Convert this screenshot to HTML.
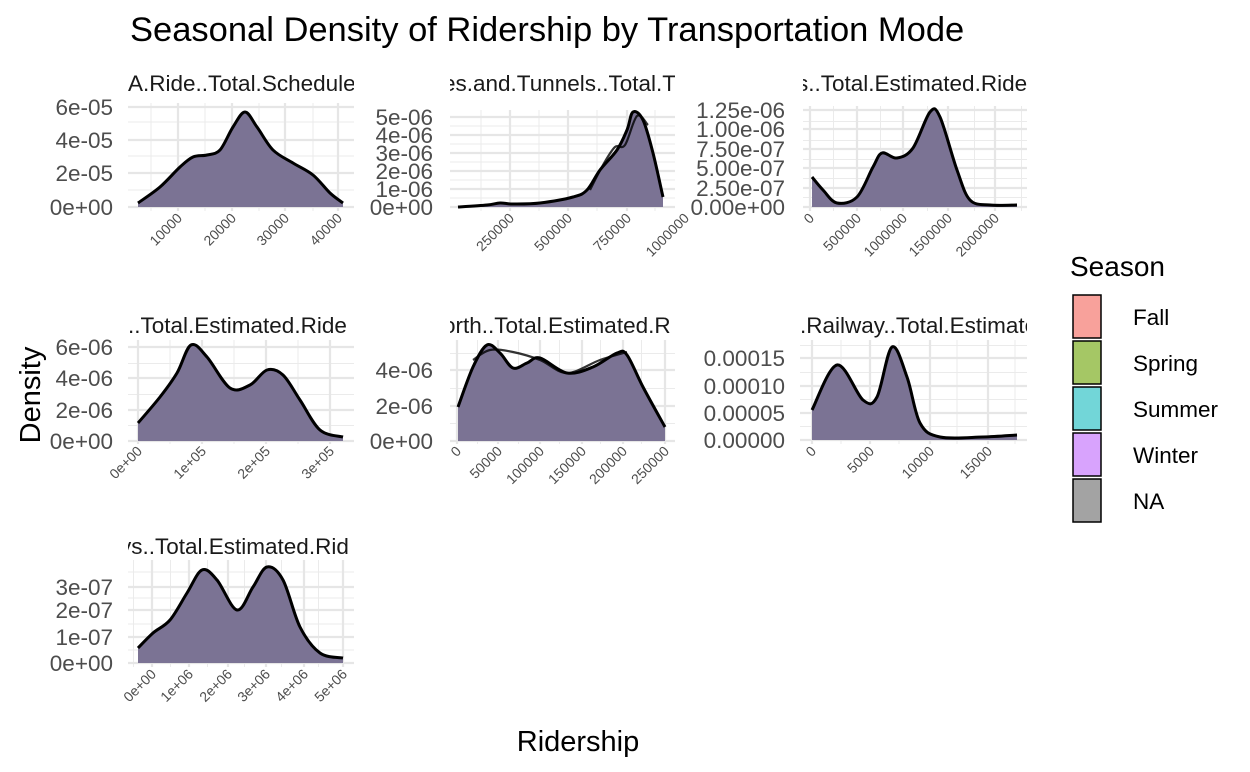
<!DOCTYPE html>
<html><head><meta charset="utf-8"><style>
html,body{margin:0;padding:0;background:#fff;}
svg{display:block;font-family:"Liberation Sans",Arial,sans-serif;}
</style></head><body>
<svg id="s" width="1250" height="772" viewBox="0 0 1250 772" xmlns="http://www.w3.org/2000/svg">
<defs></defs>
<text x="130" y="41" font-size="34.5" fill="#000">Seasonal Density of Ridership by Transportation Mode</text>
<text transform="translate(40,395) rotate(-90)" font-size="29" text-anchor="middle" fill="#000">Density</text>
<text x="578" y="751" font-size="29" text-anchor="middle" fill="#000">Ridership</text>
<text x="1070" y="276" font-size="28" fill="#000">Season</text>
<g stroke="#000" stroke-width="1.5">
<rect x="1073" y="295" width="28" height="43" fill="#f8a19b"/>
<rect x="1073" y="341" width="28" height="43" fill="#a5c765"/>
<rect x="1073" y="387" width="28" height="43" fill="#72d6d8"/>
<rect x="1073" y="433" width="28" height="43" fill="#d8a3fd"/>
<rect x="1073" y="479" width="28" height="43" fill="#a3a3a3"/>
</g>
<g font-size="22.5" fill="#000">
<text x="1133" y="325">Fall</text>
<text x="1133" y="371">Spring</text>
<text x="1133" y="417">Summer</text>
<text x="1133" y="463">Winter</text>
<text x="1133" y="509">NA</text>
</g>
<g id="panels"></g>
</svg>
<script>
const NS="http://www.w3.org/2000/svg";
const S=document.getElementById('s'),G=document.getElementById('panels'),D=S.querySelector('defs');
function el(t,a,p){const e=document.createElementNS(NS,t);for(const k in a)e.setAttribute(k,a[k]);(p||G).appendChild(e);return e;}
function smooth(pts){let d="M"+pts[0][0]+","+pts[0][1];for(let i=0;i<pts.length-1;i++){const p0=pts[Math.max(0,i-1)],p1=pts[i],p2=pts[i+1],p3=pts[Math.min(pts.length-1,i+2)];
const c1=[p1[0]+(p2[0]-p0[0])/6,p1[1]+(p2[1]-p0[1])/6],c2=[p2[0]-(p3[0]-p1[0])/6,p2[1]-(p3[1]-p1[1])/6];
d+=" C"+c1[0].toFixed(1)+","+c1[1].toFixed(1)+" "+c2[0].toFixed(1)+","+c2[1].toFixed(1)+" "+p2[0]+","+p2[1];}return d;}
let cid=0;
function panel(o){
 const [L,R,T,B]=o.rect;
 const yt=o.yt, xt=o.xt;
 const ys=yt.map(t=>t[1]), xs=xt.map(t=>t[1]);
 const dy=ys.length>1?ys[1]-ys[0]:0, dx=xs.length>1?xs[1]-xs[0]:0;
 for(let i=-1;i<ys.length;i++){const y=ys[0]+dy*(i+0.5);if(y>T-1&&y<B+1)el('line',{x1:L,x2:R,y1:y,y2:y,stroke:'#ebebeb','stroke-width':1});}
 for(let i=-2;i<xs.length+1;i++){const x=xs[0]+dx*(i+0.5);if(x>L&&x<R)el('line',{x1:x,x2:x,y1:T,y2:B,stroke:'#ebebeb','stroke-width':1});}
 for(const y of ys)if(y>=T-1&&y<=B+1)el('line',{x1:L,x2:R,y1:y,y2:y,stroke:'#e6e6e6','stroke-width':2.2});
 for(const x of xs)if(x>=L&&x<=R)el('line',{x1:x,x2:x,y1:T,y2:B,stroke:'#e6e6e6','stroke-width':2.2});
 const pts=o.c, base=ys[0];
 let d=smooth(pts);
 el('path',{d:d+" L"+pts[pts.length-1][0]+","+base+" L"+pts[0][0]+","+base+" Z",fill:'#7b7394'});
 if(o.c2){el('path',{d:smooth(o.c2),fill:'none',stroke:'#000','stroke-width':2.2,'stroke-opacity':0.8});}
 el('path',{d:d,fill:'none',stroke:'#000','stroke-width':3,'stroke-linejoin':'round'});
 for(const [lab,y] of yt)el('text',{x:o.yl,y:y+8,'font-size':22.5,'text-anchor':'end',fill:'#4d4d4d'}).textContent=lab;
 for(const [lab,x] of xt){const t=el('text',{transform:`translate(${x+5},${B+8}) rotate(-45)`,'font-size':14,'text-anchor':'end',fill:'#4d4d4d'});t.textContent=lab;}
 const id='c'+(cid++);const cp=el('clipPath',{id:id},D);el('rect',{x:L,y:T-40,width:R-L,height:40},cp);
 el('text',{x:o.tx,y:o.ty,'font-size':22.5,fill:'#1a1a1a','clip-path':`url(#${id})`}).textContent=o.title;
}
panel({rect:[128,354,103,211],title:"A.Ride..Total.Scheduled",tx:128,ty:91,yl:113,
 yt:[["0e+00",207],["2e-05",173],["4e-05",140],["6e-05",107]],
 xt:[["10000",178],["20000",232],["30000",285],["40000",338]],
 c:[[138,203],[160,187],[180,167],[193,157],[207,155],[220,150],[233,127],[245,112],[257,127],[273,150],[293,163],[313,175],[330,193],[343,203]]});
panel({rect:[450,675,110,211],title:"es.and.Tunnels..Total.Tr",tx:443,ty:91,yl:433,
 yt:[["0e+00",207],["1e-06",189],["2e-06",171],["3e-06",153],["4e-06",135],["5e-06",117]],
 xt:[["250000",510],["500000",568],["750000",627],["1000000",685]],
 c:[[458,207],[487,205],[500,203],[513,204],[540,203],[573,197],[587,190],[600,170],[617,150],[627,130],[633,112],[643,120],[653,153],[663,197]],
 c2:[[590,190],[603,165],[615,147],[625,145],[637,116],[648,125]]});
panel({rect:[803,1027,106,211],title:"s..Total.Estimated.Ride",tx:797,ty:91,yl:785,
 yt:[["0.00e+00",207],["2.50e-07",188],["5.00e-07",168],["7.50e-07",149],["1.00e-06",129],["1.25e-06",110]],
 xt:[["0",810],["500000",857],["1000000",903],["1500000",948],["2000000",995]],
 c:[[812,177],[823,190],[837,203],[857,197],[873,167],[882,153],[897,158],[913,148],[930,112],[940,117],[957,170],[970,200],[990,205],[1017,205]]});
panel({rect:[128,354,340,444],title:"..Total.Estimated.Ride",tx:128,ty:333,yl:113,
 yt:[["0e+00",441],["2e-06",410],["4e-06",378],["6e-06",347]],
 xt:[["0e+00",138],["1e+05",202],["2e+05",266],["3e+05",330]],
 c:[[138,423],[160,397],[177,373],[191,345],[207,357],[230,388],[250,385],[267,370],[283,375],[300,400],[320,430],[343,437]]});
panel({rect:[450,675,340,444],title:"orth..Total.Estimated.R",tx:443,ty:333,yl:433,
 yt:[["0e+00",441],["2e-06",406],["4e-06",370]],
 xt:[["0",457],["50000",498],["100000",540],["150000",582],["200000",623],["250000",665]],
 c:[[458,407],[473,367],[487,345],[500,353],[513,368],[527,363],[540,358],[567,373],[593,367],[617,353],[627,355],[643,387],[665,427]],
 c2:[[473,360],[490,350],[513,352],[540,360],[567,373],[600,360],[627,352]]});
panel({rect:[800,1027,340,444],title:".Railway..Total.Estimated",tx:800,ty:333,yl:785,
 yt:[["0.00000",440],["0.00005",413],["0.00010",386],["0.00015",358]],
 xt:[["0",812],["5000",870],["10000",930],["15000",988]],
 c:[[812,410],[837,365],[863,400],[877,397],[892,347],[907,377],[920,423],[940,437],[983,437],[1017,435]]});
panel({rect:[128,354,560,667],title:"ys..Total.Estimated.Rid",tx:120,ty:554,yl:113,
 yt:[["0e+00",663],["1e-07",637],["2e-07",610],["3e-07",587]],
 xt:[["0e+00",152],["1e+06",189],["2e+06",228],["3e+06",266],["4e+06",304],["5e+06",343]],
 c:[[138,648],[153,633],[170,620],[187,593],[202,570],[217,580],[237,610],[253,587],[267,567],[283,580],[300,627],[320,653],[343,658]]});
</script>
</body></html>
